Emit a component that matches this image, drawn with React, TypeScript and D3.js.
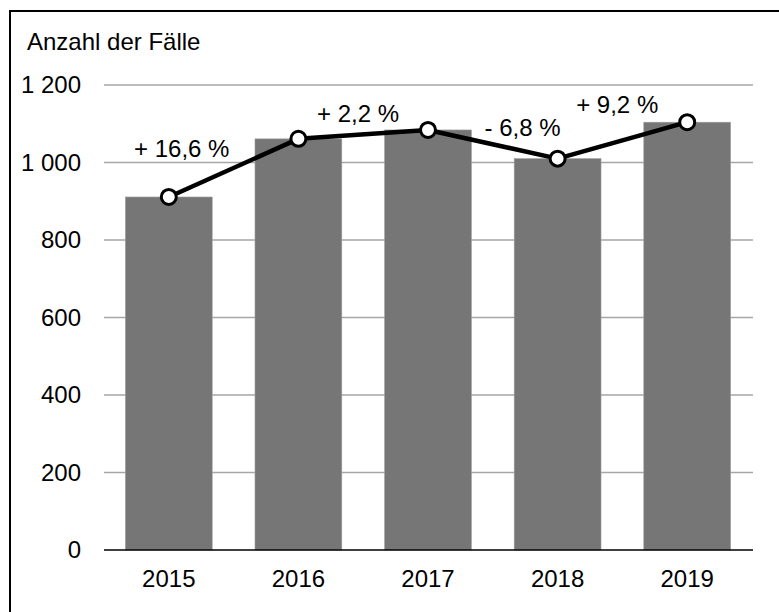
import React from "react";
import * as d3 from "d3";

const years = ["2015", "2016", "2017", "2018", "2019"];
const cases = [911, 1061, 1084, 1010, 1104];
const yTicks = [0, 200, 400, 600, 800, 1000, 1200];
const changeLabels = ["+ 16,6 %", "+ 2,2 %", "- 6,8 %", "+ 9,2 %"];
// label anchor in data units: band index (fractional) and value at baseline
const changeLabelIdx = [0.1, 1.46, 2.73, 3.46];
const changeLabelVal = [1014, 1104, 1068, 1128];
const yAxisTitle = "Anzahl der Fälle";

const W = 779;
const H = 612;
const FONT = "'Liberation Sans', Arial, sans-serif";
const FS = 24;

function fmt(v: number): string {
  const s = String(v);
  return s.length > 3 ? s.slice(0, s.length - 3) + " " + s.slice(-3) : s;
}

export default function App() {
  const x = d3
    .scaleBand<string>()
    .domain(years)
    .range([104, 752])
    .paddingInner(0.33)
    .paddingOuter(0.165);
  const y = d3.scaleLinear().domain([0, 1200]).range([550, 85]);
  const cx = (i: number) => x(years[0])! + x.bandwidth() / 2 + i * x.step();

  const line = d3
    .line<number>()
    .x((_, i) => cx(i))
    .y((d) => y(d));

  return (
    <svg
      width={W}
      height={H}
      style={{ position: "absolute", left: 0, top: 0, background: "#fff" }}
      fontFamily={FONT}
    >
      <rect x={0} y={0} width={W} height={H} fill="#fff" />
      <rect x={10} y={11} width={W + 20} height={H + 20} fill="none" stroke="#000" strokeWidth={2} />
      <text x={27} y={50} fontSize={FS} fill="#000">
        {yAxisTitle}
      </text>
      {yTicks.slice(1).map((t) => (
        <line key={t} x1={104} x2={753} y1={y(t)} y2={y(t)} stroke="#a6a6a6" strokeWidth={1.3} />
      ))}
      {yTicks.map((t) => (
        <text key={t} x={81} y={y(t)} dy="0.35em" textAnchor="end" fontSize={FS} fill="#000">
          {fmt(t)}
        </text>
      ))}
      {years.map((yr, i) => (
        <rect
          key={yr}
          x={x(yr)!}
          y={y(cases[i])}
          width={x.bandwidth()}
          height={y(0) - y(cases[i])}
          fill="#767677"
          stroke="#a0a0a0"
          strokeWidth={0.6}
        />
      ))}
      <line x1={104} x2={753} y1={y(0)} y2={y(0)} stroke="#000" strokeWidth={1.5} />
      {years.map((yr) => (
        <text key={yr} x={x(yr)! + x.bandwidth() / 2} y={587} textAnchor="middle" fontSize={FS} fill="#000">
          {yr}
        </text>
      ))}
      <path d={line(cases) || ""} fill="none" stroke="#000" strokeWidth={4.5} strokeLinejoin="round" />
      {cases.map((v, i) => (
        <circle key={i} cx={cx(i)} cy={y(v)} r={7.5} fill="#fff" stroke="#000" strokeWidth={3} />
      ))}
      {changeLabels.map((lab, i) => (
        <text
          key={lab}
          x={cx(changeLabelIdx[i])}
          y={y(changeLabelVal[i])}
          textAnchor="middle"
          fontSize={FS}
          fill="#000"
        >
          {lab}
        </text>
      ))}
    </svg>
  );
}
